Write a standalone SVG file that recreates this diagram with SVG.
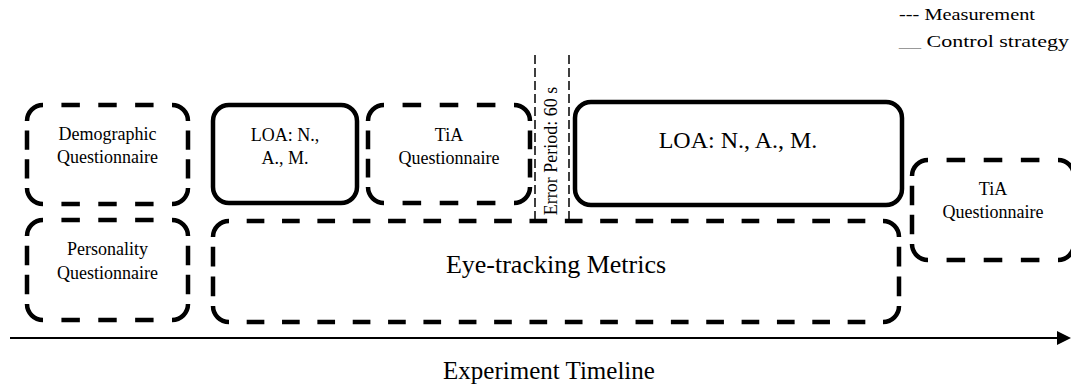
<svg xmlns="http://www.w3.org/2000/svg" width="1071" height="391" viewBox="0 0 1071 391">
  <style>
    text { font-family: "Liberation Serif", "Times New Roman", serif; fill: #000; }
    .box-text { font-size: 18px; text-anchor: middle; }
    /* measurement boxes: solid rounded corners, evenly dashed straight sides */
    .corner { fill: none; stroke: #000; stroke-width: 4.5; }
    .mh { stroke: #000; stroke-width: 4.5; stroke-dasharray: 1 1; stroke-dashoffset: 1; }
    .mv { stroke: #000; stroke-width: 4.5; stroke-dasharray: 2 1; stroke-dashoffset: 2; }
    .control { fill: none; stroke: #000; stroke-width: 4.5; }
    .period { stroke: #000; stroke-width: 1.5; stroke-dasharray: 9 4; }
  </style>

  <!-- legend -->
  <g id="legend">
    <text x="899" y="20" font-size="17" textLength="136" lengthAdjust="spacingAndGlyphs">--- Measurement</text>
    <text x="899" y="47" font-size="17" textLength="170" lengthAdjust="spacingAndGlyphs"><tspan fill="#999">__</tspan> Control strategy</text>
  </g>

  <!-- first row -->
  <g id="demographic">
    <path class="corner" d="M27,121 A16,16 0 0 1 43,105 M172,105 A16,16 0 0 1 188,121 M188,188 A16,16 0 0 1 172,204 M43,204 A16,16 0 0 1 27,188"/>
    <line class="mh" x1="43" y1="105" x2="172" y2="105" pathLength="7"/>
    <line class="mh" x1="43" y1="204" x2="172" y2="204" pathLength="7"/>
    <line class="mv" x1="27" y1="121" x2="27" y2="188" pathLength="7"/>
    <line class="mv" x1="188" y1="121" x2="188" y2="188" pathLength="7"/>
    <text class="box-text" x="107.5" y="140">Demographic</text>
    <text class="box-text" x="107.5" y="163">Questionnaire</text>
  </g>

  <g id="loa-short">
    <rect class="control" x="213" y="105" width="144" height="98" rx="16"/>
    <text class="box-text" x="285" y="141">LOA: N.,</text>
    <text class="box-text" x="285" y="164">A., M.</text>
  </g>

  <g id="tia-first">
    <path class="corner" d="M368,121 A16,16 0 0 1 384,105 M514,105 A16,16 0 0 1 530,121 M530,187 A16,16 0 0 1 514,203 M384,203 A16,16 0 0 1 368,187"/>
    <line class="mh" x1="384" y1="105" x2="514" y2="105" pathLength="7"/>
    <line class="mh" x1="384" y1="203" x2="514" y2="203" pathLength="7"/>
    <line class="mv" x1="368" y1="121" x2="368" y2="187" pathLength="7"/>
    <line class="mv" x1="530" y1="121" x2="530" y2="187" pathLength="7"/>
    <text class="box-text" x="449" y="141">TiA</text>
    <text class="box-text" x="449" y="164">Questionnaire</text>
  </g>

  <g id="error-period">
    <line class="period" x1="535" y1="55" x2="535" y2="222"/>
    <line class="period" x1="569" y1="55" x2="569" y2="222"/>
    <text transform="translate(557,151) rotate(-90)" font-size="18" text-anchor="middle">Error Period: 60 s</text>
  </g>

  <g id="loa-long">
    <rect class="control" x="575" y="102" width="327" height="103" rx="16"/>
    <text x="738" y="148" font-size="24" text-anchor="middle">LOA: N., A., M.</text>
  </g>

  <!-- second row -->
  <g id="personality">
    <path class="corner" d="M27,236 A16,16 0 0 1 43,220 M172,220 A16,16 0 0 1 188,236 M188,304 A16,16 0 0 1 172,320 M43,320 A16,16 0 0 1 27,304"/>
    <line class="mh" x1="43" y1="220" x2="172" y2="220" pathLength="7"/>
    <line class="mh" x1="43" y1="320" x2="172" y2="320" pathLength="7"/>
    <line class="mv" x1="27" y1="236" x2="27" y2="304" pathLength="7"/>
    <line class="mv" x1="188" y1="236" x2="188" y2="304" pathLength="7"/>
    <text class="box-text" x="107.5" y="255">Personality</text>
    <text class="box-text" x="107.5" y="279">Questionnaire</text>
  </g>

  <g id="eye-tracking">
    <path class="corner" d="M213,237 A16,16 0 0 1 229,221 M883,221 A16,16 0 0 1 899,237 M899,306 A16,16 0 0 1 883,322 M229,322 A16,16 0 0 1 213,306"/>
    <line class="mh" x1="229" y1="221" x2="883" y2="221" pathLength="37"/>
    <line class="mh" x1="229" y1="322" x2="883" y2="322" pathLength="37"/>
    <line class="mv" x1="213" y1="237" x2="213" y2="306" pathLength="7"/>
    <line class="mv" x1="899" y1="237" x2="899" y2="306" pathLength="7"/>
    <text x="556" y="273" font-size="26" text-anchor="middle">Eye-tracking Metrics</text>
  </g>

  <g id="tia-final">
    <path class="corner" d="M912,176 A16,16 0 0 1 928,160 M1058,160 A16,16 0 0 1 1074,176 M1074,244 A16,16 0 0 1 1058,260 M928,260 A16,16 0 0 1 912,244"/>
    <line class="mh" x1="928" y1="160" x2="1058" y2="160" pathLength="7"/>
    <line class="mh" x1="928" y1="260" x2="1058" y2="260" pathLength="7"/>
    <line class="mv" x1="912" y1="176" x2="912" y2="244" pathLength="7"/>
    <line class="mv" x1="1074" y1="176" x2="1074" y2="244" pathLength="7"/>
    <text class="box-text" x="993" y="195">TiA</text>
    <text class="box-text" x="993" y="218">Questionnaire</text>
  </g>

  <!-- time axis -->
  <g id="connectors">
    <line x1="10" y1="338" x2="1060" y2="338" stroke="#000" stroke-width="2"/>
    <polygon points="1057,331 1071,338 1057,345" fill="#000"/>
  </g>
  <text x="549" y="379" font-size="25" text-anchor="middle">Experiment Timeline</text>
</svg>
